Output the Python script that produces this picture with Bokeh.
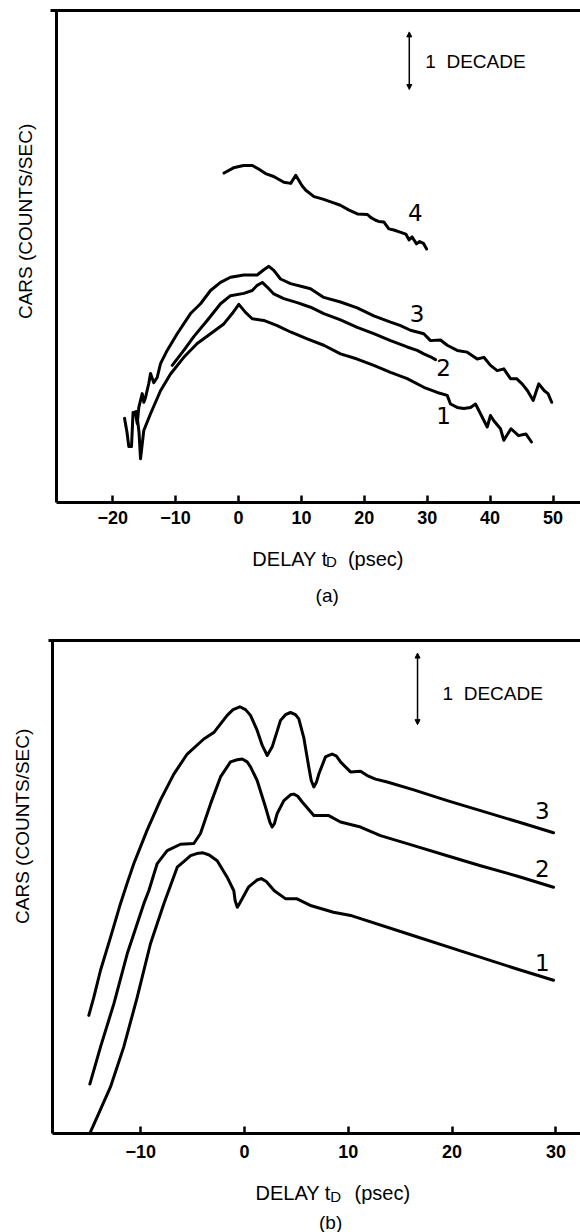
import math
from bokeh.plotting import figure
from bokeh.layouts import column
from bokeh.models import Range1d, LinearAxis, Label, Arrow, NormalHead, FixedTicker
from bokeh.embed import file_html
from bokeh.resources import INLINE

FONT = "Liberation Sans"

# ---------------- Panel (a): measured CARS signal (log10, arbitrary offset) ----------------
a_ticks = [-20, -10, 0, 10, 20, 30, 40, 50]
a_tick_labels = ["\u221220", "\u221210", "0", "10", "20", "30", "40", "50"]

a1_x = [-16.66, -16.22, -15.82, -15.58, -15.06, -13.99, -12.40, -10.81, -8.70, -6.57, -4.45, -2.34,
        -1.00, 0.05, 1.11, 2.18, 4.02, 6.15, 8.27, 10.92, 13.56, 16.22, 18.87, 21.51, 24.17, 26.82,
        29.46, 31.59, 33.18, 33.70, 34.77, 35.82, 36.88, 37.68, 38.47, 39.54, 40.06, 40.59, 41.65,
        42.18, 42.97, 43.32, 44.52, 45.68, 46.58]
a1_y = [1.56, 1.58, 1.22, 0.76, 1.25, 1.54, 1.94, 2.23, 2.52, 2.76, 2.93, 3.10, 3.28, 3.44, 3.30,
        3.19, 3.16, 3.07, 2.96, 2.84, 2.73, 2.58, 2.49, 2.38, 2.26, 2.15, 2.00, 1.91, 1.86, 1.71,
        1.65, 1.63, 1.65, 1.71, 1.54, 1.31, 1.51, 1.42, 1.28, 1.08, 1.22, 1.28, 1.16, 1.19, 1.05]

a2_x = [-10.54, -8.70, -7.11, -4.98, -2.86, -1.27, 0.84, 2.18, 2.97, 3.77, 4.56, 5.61, 7.20, 9.33,
        11.45, 13.56, 16.22, 18.87, 21.51, 24.17, 26.82, 28.41, 29.46, 30.52, 31.32]
a2_y = [2.38, 2.64, 2.88, 3.16, 3.45, 3.59, 3.63, 3.68, 3.77, 3.82, 3.74, 3.62, 3.54, 3.47, 3.39,
        3.28, 3.17, 3.04, 2.93, 2.81, 2.70, 2.64, 2.58, 2.53, 2.48]

a3_x = [-18.12, -17.73, -17.44, -17.01, -16.77, -16.38, -16.10, -15.85, -15.31, -15.06, -14.79,
        -14.26, -13.99, -13.47, -12.93, -12.40, -11.34, -9.75, -7.63, -6.04, -4.45, -2.86, -1.27,
        0.84, 2.97, 4.02, 4.82, 5.61, 6.68, 8.27, 10.38, 11.45, 13.56, 16.22, 18.87, 21.51, 24.17,
        25.76, 27.34, 29.46, 30.52, 32.11, 33.18, 34.77, 36.36, 37.95, 39.00, 40.06, 41.13, 42.18,
        43.24, 44.20, 45.09, 45.95, 46.85, 47.74, 48.62, 49.21, 49.79]
a3_y = [1.46, 1.22, 0.97, 0.97, 1.56, 1.55, 1.37, 1.65, 1.89, 1.74, 1.82, 2.07, 2.24, 2.08, 2.17,
        2.41, 2.64, 2.93, 3.28, 3.45, 3.68, 3.82, 3.91, 3.95, 3.95, 4.04, 4.10, 4.03, 3.88, 3.80,
        3.74, 3.71, 3.56, 3.48, 3.38, 3.24, 3.13, 3.07, 2.99, 2.93, 2.81, 2.82, 2.73, 2.64, 2.61,
        2.49, 2.52, 2.38, 2.29, 2.32, 2.15, 2.15, 2.06, 1.94, 1.77, 2.06, 1.94, 1.89, 1.74]

a4_x = [-2.3, -0.8, 0.8, 2.2, 3.2, 4.3, 5.6, 7.2, 8.3, 9.1, 10.1, 10.7, 12.0, 13.3, 14.9, 16.2, 17.5,
        18.9, 20.5, 21.0, 21.8, 22.3, 23.1, 23.9, 24.7, 25.8, 26.6, 27.1, 27.6, 28.3, 28.8, 29.4, 29.9]
a4_y = [5.72, 5.81, 5.85, 5.85, 5.79, 5.71, 5.66, 5.56, 5.54, 5.68, 5.50, 5.42, 5.31, 5.27, 5.21,
        5.16, 5.08, 5.01, 5.00, 4.95, 4.90, 4.88, 4.87, 4.75, 4.73, 4.69, 4.66, 4.56, 4.61, 4.49,
        4.53, 4.50, 4.40]

a_curve_labels = ["4", "3", "2", "1"]
a_label_x = [28.1, 28.4, 32.6, 32.6]
a_label_y = [5.04, 3.28, 2.35, 1.51]

# ---------------- Panel (b): calculated CARS signal ----------------
b_ticks = [-10, 0, 10, 20, 30]
b_tick_labels = ["\u221210", "0", "10", "20", "30"]

b1_x = [-14.90, -14.04, -12.91, -11.63, -10.34, -9.06, -7.77, -6.48, -5.60, -5.20, -4.60, -4.00,
        -3.40, -2.63, -1.67, -1.03, -0.90, -0.69, -0.45, 0.38, 1.20, 1.62, 2.10, 2.87, 3.94, 5.01,
        6.44, 8.57, 10.36, 15.70, 21.04, 26.40, 29.77]
b1_y = [0.00, 0.28, 0.65, 1.21, 1.90, 2.65, 3.21, 3.72, 3.83, 3.88, 3.91, 3.92, 3.89, 3.81, 3.58,
        3.39, 3.25, 3.16, 3.22, 3.44, 3.54, 3.56, 3.52, 3.39, 3.28, 3.28, 3.18, 3.09, 3.04, 2.79,
        2.54, 2.29, 2.14]

b2_x = [-14.90, -13.87, -12.59, -11.30, -9.70, -9.22, -8.41, -7.45, -6.17, -4.88, -4.24, -3.28,
        -2.31, -1.35, -0.70, -0.22, 0.26, 0.58, 1.22, 2.02, 2.44, 2.67, 2.89, 3.15, 3.79, 4.43, 4.75,
        5.13, 5.56, 6.68, 8.12, 9.25, 11.18, 13.10, 16.31, 19.53, 22.74, 26.40, 29.77]
b2_y = [0.69, 1.21, 1.81, 2.51, 3.21, 3.39, 3.77, 3.95, 4.04, 4.05, 4.19, 4.60, 4.98, 5.19, 5.22,
        5.23, 5.19, 5.12, 4.93, 4.56, 4.35, 4.28, 4.33, 4.47, 4.65, 4.73, 4.74, 4.71, 4.63, 4.44,
        4.44, 4.35, 4.28, 4.16, 4.02, 3.88, 3.74, 3.59, 3.44]

b3_x = [-15.00, -14.52, -13.87, -12.91, -11.95, -11.32, -10.66, -9.37, -8.09, -6.81, -5.52, -3.92,
        -2.96, -1.67, -1.10, -0.45, 0.10, 0.58, 1.22, 1.71, 2.19, 2.67, 3.47, 3.95, 4.43, 4.91, 5.23,
        5.71, 6.19, 6.43, 6.68, 6.94, 7.16, 7.80, 8.12, 8.45, 8.86, 9.25, 10.21, 11.18, 11.82, 12.62,
        13.75, 16.31, 19.53, 22.74, 26.40, 29.77]
b3_y = [1.65, 1.90, 2.28, 2.74, 3.21, 3.49, 3.77, 4.24, 4.66, 5.02, 5.30, 5.51, 5.60, 5.84, 5.92,
        5.96, 5.92, 5.84, 5.63, 5.42, 5.28, 5.40, 5.77, 5.85, 5.88, 5.85, 5.79, 5.53, 5.12, 4.93,
        4.84, 4.91, 5.02, 5.26, 5.28, 5.30, 5.27, 5.19, 5.05, 5.06, 5.00, 4.95, 4.91, 4.80, 4.65,
        4.51, 4.35, 4.20]

b_curve_labels = ["3", "2", "1"]
b_label_x = [28.7, 28.7, 28.7]
b_label_y = [4.51, 3.70, 2.39]


def make_panel(height, view_x, view_y, axis_x, axis_y, top_start, ticks, tick_labels, standoff):
    p = figure(width=580, height=height, x_range=Range1d(*view_x), y_range=Range1d(*view_y),
               output_backend="svg", toolbar_location=None,
               x_axis_location=None, y_axis_location=None,
               min_border_left=0, min_border_right=0, min_border_top=0, min_border_bottom=0)
    p.outline_line_color = None
    p.grid.visible = False
    p.background_fill_color = "white"
    p.border_fill_color = "white"

    xa = LinearAxis(ticker=FixedTicker(ticks=ticks), fixed_location=axis_y[0],
                    bounds=(axis_x[0], view_x[1]))
    xa.major_label_overrides = {t: s for t, s in zip(ticks, tick_labels)}
    xa.major_tick_in = 7
    xa.major_tick_out = 0
    xa.major_tick_line_width = 2.5
    xa.minor_tick_line_color = None
    xa.axis_line_width = 3
    xa.major_label_text_font = FONT
    xa.major_label_text_font_size = "18px"
    xa.major_label_text_font_style = "bold"
    xa.major_label_text_color = "black"
    xa.major_label_standoff = standoff
    p.add_layout(xa, "below")

    ya = LinearAxis(ticker=FixedTicker(ticks=[]), fixed_location=axis_x[0],
                    bounds=(axis_y[0], axis_y[1]), axis_line_width=3,
                    major_tick_line_color=None, minor_tick_line_color=None)
    p.add_layout(ya, "left")

    ta = LinearAxis(ticker=FixedTicker(ticks=[]), fixed_location=axis_y[1],
                    bounds=(top_start, view_x[1]), axis_line_width=3,
                    major_tick_line_color=None, minor_tick_line_color=None)
    p.add_layout(ta, "above")
    return p


def add_text(p, x, y, text, size, angle=0.0, align="left", baseline="middle", style="normal",
             y_offset=0, font=FONT):
    p.add_layout(Label(x=x, y=y, text=text, text_font=font, text_font_size=size,
                       text_font_style=style, angle=angle, text_align=align,
                       text_baseline=baseline, y_offset=y_offset, text_color="black"))


LW = 3

# ---------- (a) ----------
pa = make_panel(620, (-37.84, 54.37), (-2.049, 8.715), (-29.0, 54.4), (0.0, 8.54), -29.9,
                a_ticks, a_tick_labels, 9)
for xs, ys in [(a1_x, a1_y), (a2_x, a2_y), (a3_x, a3_y), (a4_x, a4_y)]:
    pa.line(xs, ys, line_width=LW, color="black", line_join="round", line_cap="round")
for t, x, y in zip(a_curve_labels, a_label_x, a_label_y):
    add_text(pa, x, y, t, "23px", align="center", font="DejaVu Sans")
pa.add_layout(Arrow(x_start=27.15, y_start=7.17, x_end=27.15, y_end=8.17, line_width=1.5,
                    start=NormalHead(size=5, fill_color="black"),
                    end=NormalHead(size=5, fill_color="black")))
add_text(pa, 29.7, 7.66, "1\u00a0\u00a0DECADE", "19px")
add_text(pa, -33.9, 4.88, "CARS (COUNTS/SEC)", "19px", angle=math.pi / 2, align="center")
add_text(pa, 2.2, -0.977, "DELAY t", "20px", baseline="alphabetic")
add_text(pa, 13.9, -0.977, "D", "15px", baseline="alphabetic", y_offset=-3)
add_text(pa, 17.4, -0.977, "(psec)", "20px", baseline="alphabetic")
add_text(pa, 14.1, -1.615, "(a)", "19px", align="center")

# ---------- (b) ----------
pb = make_panel(612, (-23.507, 32.37), (-1.383, 7.165), (-18.5, 32.37), (0.0, 6.885), -18.9,
                b_ticks, b_tick_labels, 12)
for xs, ys in [(b1_x, b1_y), (b2_x, b2_y), (b3_x, b3_y)]:
    pb.line(xs, ys, line_width=LW, color="black", line_join="round", line_cap="round")
for t, x, y in zip(b_curve_labels, b_label_x, b_label_y):
    add_text(pb, x, y, t, "23px", align="center", font="DejaVu Sans")
pb.add_layout(Arrow(x_start=16.67, y_start=5.71, x_end=16.67, y_end=6.71, line_width=1.5,
                    start=NormalHead(size=5, fill_color="black"),
                    end=NormalHead(size=5, fill_color="black")))
add_text(pb, 19.08, 6.14, "1\u00a0\u00a0DECADE", "19px")
add_text(pb, -21.4, 4.29, "CARS (COUNTS/SEC)", "19px", angle=math.pi / 2, align="center")
add_text(pb, 1.06, -0.834, "DELAY t", "20px", baseline="alphabetic")
add_text(pb, 8.25, -0.834, "D", "15px", baseline="alphabetic", y_offset=-3)
add_text(pb, 10.6, -0.834, "(psec)", "20px", baseline="alphabetic")
add_text(pb, 8.3, -1.243, "(b)", "19px", align="center")

layout = column(pa, pb, spacing=0)
open("out.html", "w").write(file_html(layout, INLINE))
